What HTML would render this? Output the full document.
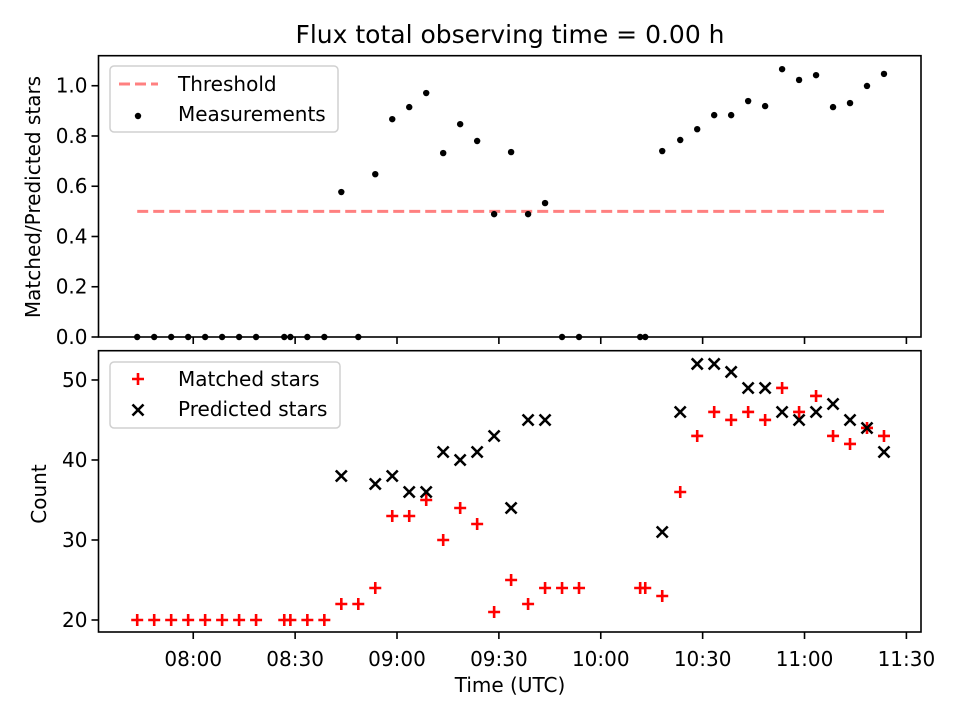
<!DOCTYPE html>
<html><head><meta charset="utf-8"><style>
html,body{margin:0;padding:0;background:#fff;}
svg text{font-family:"DejaVu Sans","Liberation Sans",sans-serif;fill:#000;}
</style></head><body>
<svg id="chart" width="960" height="720" xmlns="http://www.w3.org/2000/svg">
<rect width="960" height="720" fill="#fff"/>
<text x="510" y="43" font-size="25" text-anchor="middle">Flux total observing time = 0.00 h</text>
<g id="top"></g><g id="bot"></g>
</svg>
<script>
// minutes after 08:00 UTC
const times = [-16.5,-11.5,-6.5,-1.5,3.5,8.5,13.5,18.5,26.8,28.6,33.6,38.6,43.6,48.6,53.6,58.6,63.6,68.6,73.6,78.6,83.6,88.6,93.6,98.6,103.6,108.6,113.6,131.6,133.1,138.1,143.4,148.4,153.4,158.4,163.4,168.4,173.4,178.4,183.4,188.4,193.4,198.4,203.4];
const ratio = [0,0,0,0,0,0,0,0,0,0,0,0,0.577,0,0.648,0.867,0.915,0.971,0.732,0.847,0.780,0.489,0.736,0.489,0.533,0,0,0,0,0.740,0.784,0.827,0.883,0.883,0.939,0.919,1.066,1.023,1.042,0.915,0.931,0.999,1.047];
const matched = [20,20,20,20,20,20,20,20,20,20,20,20,22,22,24,33,33,35,30,34,32,21,25,22,24,24,24,24,24,23,36,43,46,45,46,45,49,46,48,43,42,44,43];
const predicted = [null,null,null,null,null,null,null,null,null,null,null,null,38,null,37,38,36,36,41,40,41,43,34,45,45,null,null,null,null,31,46,52,52,51,49,49,46,45,46,47,45,44,41];
const threshold = 0.5;
const xTickMins = [0,30,60,90,120,150,180,210];
const xTickLabels = ["08:00","08:30","09:00","09:30","10:00","10:30","11:00","11:30"];
const topTicks = [0,0.2,0.4,0.6,0.8,1.0];
const topTickLabels = ["0.0","0.2","0.4","0.6","0.8","1.0"];
const botTicks = [20,30,40,50];
const botTickLabels = ["20","30","40","50"];

const NS="http://www.w3.org/2000/svg";
const L=98.5,R=921;
const xMin=-27.9,xMax=214.3;
const X=m=>L+(m-xMin)/(xMax-xMin)*(R-L);
const T={top:55.7,bot:337,min:0,max:1.1195};
const B={top:350.7,bot:632,min:18.5,max:53.66};
const Yt=v=>T.bot-(v-T.min)/(T.max-T.min)*(T.bot-T.top);
const Yb=v=>B.bot-(v-B.min)/(B.max-B.min)*(B.bot-B.top);
function mk(tag,attrs,parent){const e=document.createElementNS(NS,tag);for(const k in attrs)e.setAttribute(k,attrs[k]);parent.appendChild(e);return e;}
const gT=document.getElementById('top'),gB=document.getElementById('bot');

let th=mk('line',{x1:X(times[0]),x2:X(times[times.length-1]),y1:Yt(threshold),y2:Yt(threshold),stroke:'#ff8080','stroke-width':3,'stroke-dasharray':'11,5'},gT);


times.forEach((t,i)=>{
  const c=mk('circle',{cx:X(t),cy:Yt(ratio[i]),r:3.2,fill:'#000'},gT);
  
  
});
times.forEach((t,i)=>{
  const x=X(t),y=Yb(matched[i]);
  const p=mk('path',{d:`M${x-6} ${y}H${x+6}M${x} ${y-6}V${y+6}`,stroke:'#f00','stroke-width':2.6,fill:'none'},gB);
  
  
});
times.forEach((t,i)=>{
  if(predicted[i]==null)return;
  const x=X(t),y=Yb(predicted[i]);
  const p=mk('path',{d:`M${x-5.5} ${y-5.5}L${x+5.5} ${y+5.5}M${x-5.5} ${y+5.5}L${x+5.5} ${y-5.5}`,stroke:'#000','stroke-width':2.6,fill:'none'},gB);
  
  
});

[[T,gT,'top-axes-frame'],[B,gB,'bottom-axes-frame']].forEach(([A,g,n])=>{
  const r=mk('rect',{x:L,y:A.top,width:R-L,height:A.bot-A.top,fill:'none',stroke:'#000','stroke-width':1.6},g);
  
  
  xTickMins.forEach((m,i)=>{
    const t=mk('line',{x1:X(m),x2:X(m),y1:A.bot,y2:A.bot+7,stroke:'#000','stroke-width':1.6},g);
    
    
  });
});
xTickMins.forEach((m,i)=>{
  const t=mk('text',{x:X(m),y:666,'font-size':20,'text-anchor':'middle'},gB);
  t.textContent=xTickLabels[i];
  
  
});
topTicks.forEach((v,i)=>{
  const l=mk('line',{x1:L-7,x2:L,y1:Yt(v),y2:Yt(v),stroke:'#000','stroke-width':1.6},gT);
  
  
  const t=mk('text',{x:L-11,y:Yt(v)+7,'font-size':20,'text-anchor':'end'},gT);
  t.textContent=topTickLabels[i];
  
  
});
botTicks.forEach((v,i)=>{
  const l=mk('line',{x1:L-7,x2:L,y1:Yb(v),y2:Yb(v),stroke:'#000','stroke-width':1.6},gB);
  
  
  const t=mk('text',{x:L-11,y:Yb(v)+7,'font-size':20,'text-anchor':'end'},gB);
  t.textContent=botTickLabels[i];
  
  
});
</script>
<svg style="position:absolute;left:0;top:0" width="960" height="720" xmlns="http://www.w3.org/2000/svg">
<text x="510" y="692" font-size="20" text-anchor="middle">Time (UTC)</text>
<text transform="translate(40,197) rotate(-90)" font-size="20" text-anchor="middle">Matched/Predicted stars</text>
<text transform="translate(46,494) rotate(-90)" font-size="20" text-anchor="middle">Count</text>
<g>
<rect x="110" y="66" width="228" height="66" rx="4" fill="#fff" fill-opacity="0.8" stroke="#d0d0d0" stroke-width="1.5"/>
<line x1="119" y1="84" x2="158" y2="84" stroke="#ff8080" stroke-width="3" stroke-dasharray="11,5"/>
<text x="178" y="91" font-size="20">Threshold</text>
<circle cx="138" cy="116" r="3.2" fill="#000"/>
<text x="178" y="121" font-size="20">Measurements</text>
</g>
<g>
<rect x="110" y="362" width="230" height="66" rx="4" fill="#fff" fill-opacity="0.8" stroke="#d0d0d0" stroke-width="1.5"/>
<path d="M132 379H144M138 373V385" stroke="#f00" stroke-width="2.6"/>
<text x="178" y="386" font-size="20">Matched stars</text>
<path d="M132.5 404.5L143.5 415.5M132.5 415.5L143.5 404.5" stroke="#000" stroke-width="2.6"/>
<text x="178" y="416" font-size="20">Predicted stars</text>
</g>
</svg>
</body></html>
